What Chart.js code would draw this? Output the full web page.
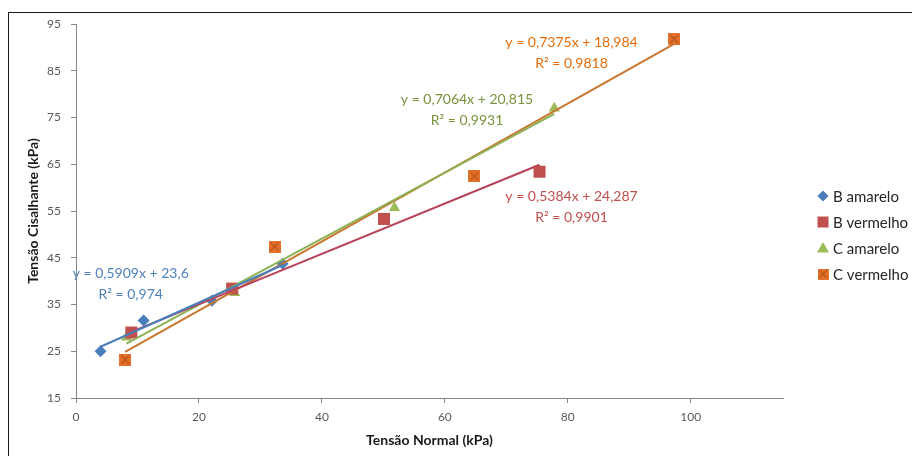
<!DOCTYPE html>
<html>
<head>
<meta charset="utf-8">
<script src="https://cdn.jsdelivr.net/npm/chart.js@4/dist/chart.umd.min.js"></script>
<style>
  html, body { margin: 0; padding: 0; background: #fff; overflow: hidden; }
  #wrap { width: 912px; height: 456px; }
</style>
</head>
<body>
<div id="wrap"><canvas id="shearChart" width="912" height="456"></canvas></div>
<script>
// Data
const seriesNames = ['B amarelo', 'B vermelho', 'C amarelo', 'C vermelho'];
const bAmareloX = [4.0, 11.0, 22.1, 33.6];
const bAmareloY = [25.0, 31.6, 35.8, 43.7];
const bVermelhoX = [9.0, 25.4, 50.1, 75.4];
const bVermelhoY = [29.0, 38.4, 53.3, 63.4];
const cAmareloX = [8.2, 25.8, 51.8, 77.8];
const cAmareloY = [28.0, 37.5, 55.7, 77.0];
const cVermelhoX = [8.0, 32.3, 64.8, 97.3];
const cVermelhoY = [23.2, 47.4, 62.4, 91.8];

// trendline coefficients as printed on the chart
const slopes = [0.5909, 0.5384, 0.7064, 0.7375];
const intercepts = [23.6, 24.287, 20.815, 18.984];
const eqLabels = ['y = 0,5909x + 23,6', 'y = 0,5384x + 24,287', 'y = 0,7064x + 20,815', 'y = 0,7375x + 18,984'];
const r2Labels = ['R² = 0,974', 'R² = 0,9901', 'R² = 0,9931', 'R² = 0,9818'];

const xTicks = [0, 20, 40, 60, 80, 100];

const markerColors = ['#4A7EBB', '#C0504D', '#9BBB59', '#E4702A'];
const lineColors = ['#4A7EBB', '#B8435A', '#8DB255', '#C9762F'];
const textColors = ['#4F81BD', '#C0504D', '#77933C', '#E46C0A'];
// where the equation boxes sit (data units, centre of first line)
const labelAnchors = [[8.9, 41.6], [80.6, 58.1], [63.6, 78.8], [80.6, 91.0]];

const xs = [bAmareloX, bVermelhoX, cAmareloX, cVermelhoX];
const ys = [bAmareloY, bVermelhoY, cAmareloY, cVermelhoY];

// orange square with a cross, like the Excel marker
function crossSquare(size) {
    const c = document.createElement('canvas');
    c.width = size; c.height = size;
    const g = c.getContext('2d');
    g.fillStyle = '#E4702A';
    g.fillRect(0, 0, size, size);
    g.strokeStyle = '#B5541C';
    g.lineWidth = 1.2;
    g.beginPath();
    g.moveTo(2, 2); g.lineTo(size - 2, size - 2);
    g.moveTo(size - 2, 2); g.lineTo(2, size - 2);
    g.stroke();
    return c;
}
const orangeMarker = crossSquare(12);

const pointStyles = ['rectRot', 'rect', 'triangle', orangeMarker];
const pointRadii = [6, 8.5, 6.5, 6];

const datasets = [];
seriesNames.forEach((name, i) => {
    datasets.push({
        type: 'scatter',
        label: name,
        data: xs[i].map((x, k) => ({ x: x, y: ys[i][k] })),
        pointStyle: pointStyles[i],
        pointRadius: pointRadii[i],
        pointHoverRadius: pointRadii[i],
        backgroundColor: markerColors[i],
        borderColor: markerColors[i],
        borderWidth: 0,
        order: 1
    });
});
seriesNames.forEach((name, i) => {
    const x0 = Math.min(...xs[i]);
    const x1 = Math.max(...xs[i]);
    datasets.push({
        type: 'line',
        label: name + ' trend',
        data: [
            { x: x0, y: slopes[i] * x0 + intercepts[i] },
            { x: x1, y: slopes[i] * x1 + intercepts[i] }
        ],
        borderColor: lineColors[i],
        borderWidth: 2,
        pointRadius: 0,
        fill: false,
        order: 0
    });
});

function drawMarker(ctx, style, x, y, color) {
    ctx.fillStyle = color;
    ctx.beginPath();
    if (style === 'rectRot') {
        ctx.moveTo(x, y - 5.5); ctx.lineTo(x + 5.5, y); ctx.lineTo(x, y + 5.5); ctx.lineTo(x - 5.5, y);
        ctx.closePath(); ctx.fill();
    } else if (style === 'rect') {
        ctx.fillRect(x - 5.5, y - 5.5, 11, 11);
    } else if (style === 'triangle') {
        ctx.moveTo(x, y - 6); ctx.lineTo(x + 6, y + 4.5); ctx.lineTo(x - 6, y + 4.5);
        ctx.closePath(); ctx.fill();
    } else {
        ctx.drawImage(style, x - 5.5, y - 5.5, 11, 11);
    }
}

const extras = {
    id: 'extras',
    beforeDraw(chart) {
        const ctx = chart.ctx;
        ctx.save();
        ctx.fillStyle = '#fff';
        ctx.fillRect(0, 0, chart.width, chart.height);
        ctx.strokeStyle = '#1a1a1a';
        ctx.lineWidth = 1;
        ctx.strokeRect(8.5, 12.5, 1000, 1000);
        ctx.restore();
    },
    afterDraw(chart) {
        const ctx = chart.ctx;
        const xScale = chart.scales.x, yScale = chart.scales.y;
        ctx.save();
        // trendline equations
        ctx.font = '14px Lato';
        ctx.textAlign = 'center';
        ctx.textBaseline = 'middle';
        labelAnchors.forEach((a, i) => {
            const px = xScale.getPixelForValue(a[0]);
            const py = yScale.getPixelForValue(a[1]);
            ctx.fillStyle = textColors[i];
            ctx.fillText(eqLabels[i], px, py);
            ctx.fillText(r2Labels[i], px, py + 21);
        });
        // legend
        ctx.font = '15px Lato';
        ctx.textAlign = 'left';
        seriesNames.forEach((name, i) => {
            const ly = 196 + i * 26;
            drawMarker(ctx, pointStyles[i], 823, ly, markerColors[i]);
            ctx.fillStyle = '#262626';
            ctx.fillText(name, 833, ly + 1);
        });
        ctx.restore();
    }
};

const ctx = document.getElementById('shearChart').getContext('2d');
const shearChart = new Chart(ctx, {
    data: { datasets: datasets },
    options: {
        responsive: false,
        animation: false,
        events: [],
        layout: { padding: { left: 25, right: 129, top: 24, bottom: 7 } },
        plugins: {
            legend: { display: false },
            tooltip: { enabled: false }
        },
        scales: {
            x: {
                type: 'linear',
                min: 0,
                max: 115,
                afterBuildTicks(scale) {
                    scale.ticks = xTicks.map(v => ({ value: v }));
                },
                afterFit(scale) { scale.height = 51; },
                grid: { drawOnChartArea: false, drawTicks: true, tickLength: 5, color: '#868686' },
                border: { color: '#868686' },
                ticks: { font: { family: 'Lato', size: 12 }, color: '#595959', padding: 7, maxRotation: 0 },
                title: {
                    display: true,
                    text: 'Tensão Normal (kPa)',
                    font: { family: 'Lato', size: 14, weight: 'bold' },
                    color: '#1a1a1a',
                    padding: 0
                }
            },
            y: {
                type: 'linear',
                min: 15,
                max: 95,
                afterFit(scale) { scale.width = 51; },
                grid: { drawOnChartArea: false, drawTicks: true, tickLength: 5, color: '#868686' },
                border: { color: '#868686' },
                ticks: { stepSize: 10, font: { family: 'Lato', size: 12 }, color: '#595959', padding: 10 },
                title: {
                    display: true,
                    text: 'Tensão Cisalhante (kPa)',
                    font: { family: 'Lato', size: 14, weight: 'bold' },
                    color: '#1a1a1a',
                    padding: 0
                }
            }
        }
    },
    plugins: [extras]
});
</script>
</body>
</html>
